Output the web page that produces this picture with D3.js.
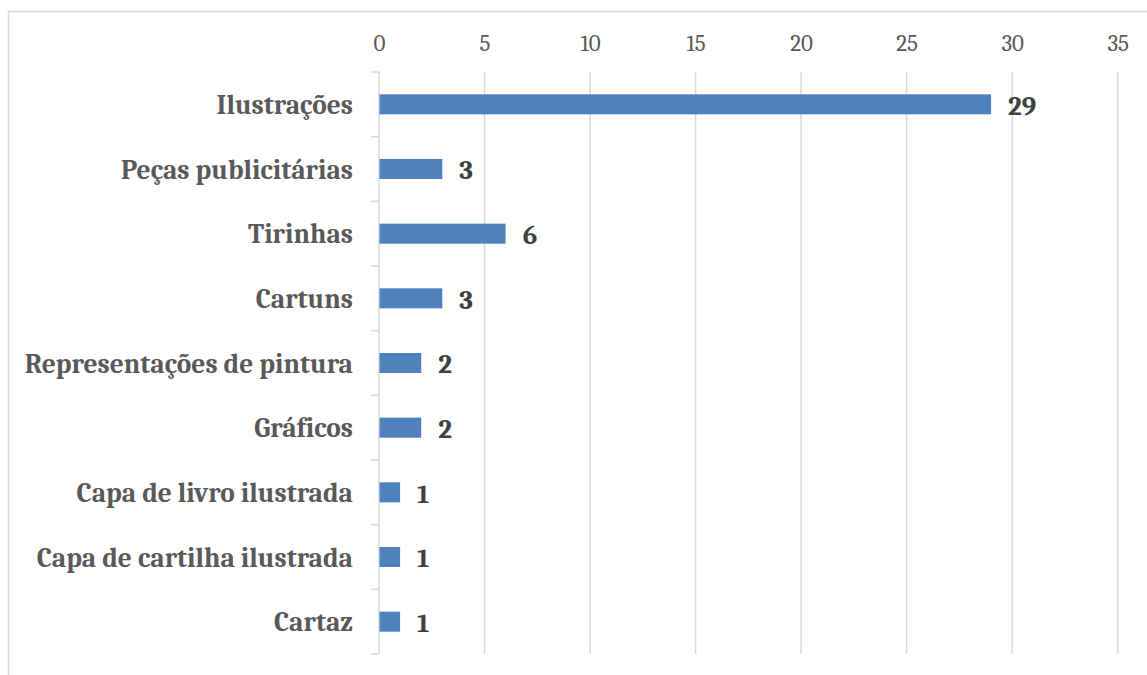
<!DOCTYPE html>
<html>
<head>
<meta charset="utf-8">
<script src="https://cdn.jsdelivr.net/npm/d3@7/dist/d3.min.js"></script>
<style>
  html, body { margin: 0; padding: 0; background: #fff; }
  svg { display: block; }
</style>
</head>
<body>
<svg id="chart" width="1147" height="675"></svg>
<script>
// Types of visual material, counted
const categories = [
  "Ilustrações",
  "Peças publicitárias",
  "Tirinhas",
  "Cartuns",
  "Representações de pintura",
  "Gráficos",
  "Capa de livro ilustrada",
  "Capa de cartilha ilustrada",
  "Cartaz"
];
const values = [29, 3, 6, 3, 2, 2, 1, 1, 1];
const tickValues = [0, 5, 10, 15, 20, 25, 30, 35];

const svg = d3.select("#chart");
const W = 1147, H = 675;
const plot = { left: 379, right: 1117.7, top: 72, bottom: 654 };
const serif = "Cambria, 'DejaVu Serif', serif";

// chart frame
svg.append("rect")
  .attr("x", 8.5).attr("y", 11.5)
  .attr("width", W + 10).attr("height", H)
  .attr("fill", "none").attr("stroke", "#d9d9d9").attr("stroke-width", 1.5);

const x = d3.scaleLinear().domain([0, 35]).range([plot.left, plot.right]);
const y = d3.scaleBand().domain(categories).range([plot.top, plot.bottom]).paddingInner(0.69).paddingOuter(0.345);
const yLines = d3.scaleBand().domain(categories).range([plot.top, plot.bottom]);

// vertical gridlines
svg.append("g").selectAll("line")
  .data(tickValues.filter(d => d > 0))
  .join("line")
  .attr("x1", d => x(d)).attr("x2", d => x(d))
  .attr("y1", plot.top).attr("y2", plot.bottom)
  .attr("stroke", "#d9d9d9").attr("stroke-width", 1.5);

// top value axis (labels only)
const xAxis = svg.append("g")
  .attr("transform", `translate(0,${plot.top})`)
  .call(d3.axisTop(x).tickValues(tickValues).tickSize(0).tickPadding(21));
xAxis.select(".domain").remove();
xAxis.selectAll("text")
  .attr("font-family", serif).attr("font-size", 23)
  .attr("fill", "#595959");

// category axis: line with outward ticks at band boundaries
const catG = svg.append("g");
catG.append("line")
  .attr("x1", plot.left).attr("x2", plot.left)
  .attr("y1", plot.top).attr("y2", plot.bottom)
  .attr("stroke", "#d9d9d9").attr("stroke-width", 1.5);
const boundaries = categories.map(c => yLines(c)).concat([plot.bottom]);
catG.selectAll("line.tick")
  .data(boundaries)
  .join("line").attr("class", "tick")
  .attr("x1", plot.left - 8).attr("x2", plot.left)
  .attr("y1", d => d).attr("y2", d => d)
  .attr("stroke", "#d9d9d9").attr("stroke-width", 1.5);

catG.selectAll("text")
  .data(categories)
  .join("text")
  .attr("x", plot.left - 26)
  .attr("y", d => y(d) + y.bandwidth() / 2)
  .attr("dy", "0.35em")
  .attr("text-anchor", "end")
  .attr("font-family", serif).attr("font-weight", "bold").attr("font-size", 27.4)
  .attr("fill", "#595959")
  .text(d => d);

// bars
svg.append("g").selectAll("rect")
  .data(categories.map((c, i) => ({ c, v: values[i] })))
  .join("rect")
  .attr("x", x(0) + 0.5)
  .attr("y", d => y(d.c))
  .attr("width", d => x(d.v) - x(0) - 0.5)
  .attr("height", y.bandwidth())
  .attr("fill", "#4f81bd");

// value labels
svg.append("g").selectAll("text")
  .data(categories.map((c, i) => ({ c, v: values[i] })))
  .join("text")
  .attr("x", d => x(d.v) + 17)
  .attr("y", d => y(d.c) + y.bandwidth() / 2)
  .attr("dy", "0.38em")
  .attr("font-family", serif).attr("font-weight", "bold").attr("font-size", 27)
  .attr("fill", "#404040")
  .text(d => d.v);
</script>
</body>
</html>
